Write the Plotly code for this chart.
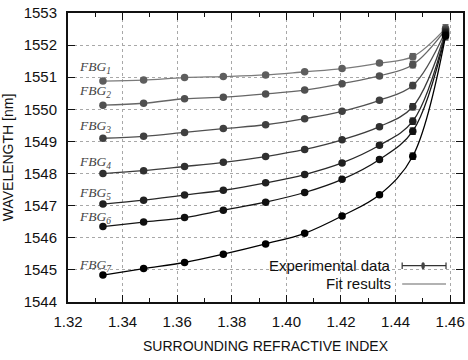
import plotly.graph_objects as go

# Surrounding refractive index at which each grating was measured
refractive_index = [1.3328, 1.3477, 1.3627, 1.3769, 1.3924, 1.4067, 1.4204, 1.4341, 1.4463, 1.4583]

# Bragg wavelengths (nm) for the seven gratings
fbg1 = [1550.88, 1550.91, 1550.99, 1551.02, 1551.07, 1551.17, 1551.27, 1551.44, 1551.64, 1552.52]
fbg2 = [1550.13, 1550.19, 1550.33, 1550.38, 1550.48, 1550.60, 1550.80, 1551.04, 1551.39, 1552.48]
fbg3 = [1549.10, 1549.16, 1549.28, 1549.40, 1549.52, 1549.71, 1549.94, 1550.28, 1550.74, 1552.44]
fbg4 = [1548.00, 1548.09, 1548.22, 1548.35, 1548.53, 1548.75, 1549.05, 1549.46, 1550.08, 1552.40]
fbg5 = [1547.05, 1547.17, 1547.33, 1547.48, 1547.71, 1547.97, 1548.33, 1548.88, 1549.63, 1552.36]
fbg6 = [1546.35, 1546.49, 1546.63, 1546.86, 1547.11, 1547.41, 1547.82, 1548.44, 1549.32, 1552.32]
fbg7 = [1544.84, 1545.04, 1545.23, 1545.49, 1545.81, 1546.14, 1546.68, 1547.34, 1548.54, 1552.28]

# Measurement uncertainty (nm)
wavelength_err = [0.03, 0.03, 0.03, 0.03, 0.03, 0.04, 0.05, 0.06, 0.10, 0.12]

series = [fbg1, fbg2, fbg3, fbg4, fbg5, fbg6, fbg7]
series_names = ["FBG<sub>1</sub>", "FBG<sub>2</sub>", "FBG<sub>3</sub>", "FBG<sub>4</sub>",
                "FBG<sub>5</sub>", "FBG<sub>6</sub>", "FBG<sub>7</sub>"]

line_colors = ["#7a7a7a", "#666666", "#505050", "#3c3c3c", "#282828", "#141414", "#000000"]
marker_colors = ["#5e5e5e", "#505050", "#404040", "#303030", "#202020", "#101010", "#000000"]

# where each grating's name is written (x, y in data units)
label_pos = [(1.3233, 1551.29), (1.3233, 1550.57), (1.3233, 1549.45), (1.3233, 1548.33),
             (1.3233, 1547.39), (1.3233, 1546.64), (1.3233, 1545.15)]

fig = go.Figure()

# fitted curves
for ys, lc in zip(series, line_colors):
    fig.add_trace(go.Scatter(
        x=refractive_index, y=ys, mode="lines",
        line=dict(color=lc, width=1.3, shape="spline", smoothing=1.0),
        showlegend=False, hoverinfo="skip"))

# measured points with error bars
for ys, mc in zip(series, marker_colors):
    fig.add_trace(go.Scatter(
        x=refractive_index, y=ys, mode="markers",
        marker=dict(color=mc, size=7.5, symbol="circle"),
        error_y=dict(type="data", array=wavelength_err, color=mc, thickness=1, width=3),
        showlegend=False))

font_sans = "Liberation Sans, Arial, sans-serif"

annotations = []
for name, (lx, ly) in zip(series_names, label_pos):
    annotations.append(dict(
        x=lx, y=ly, xref="x", yref="y", text="<i>" + name + "</i>",
        showarrow=False, xanchor="left", yanchor="middle",
        font=dict(family="Liberation Serif, DejaVu Serif, serif", size=13.5, color="#444444")))

# key entries
annotations.append(dict(x=0.824, y=0.1256, xref="paper", yref="paper", text="Experimental data",
                        showarrow=False, xanchor="right", yanchor="middle",
                        font=dict(family=font_sans, size=15, color="#111111")))
annotations.append(dict(x=0.824, y=0.0623, xref="paper", yref="paper", text="Fit results",
                        showarrow=False, xanchor="right", yanchor="middle",
                        font=dict(family=font_sans, size=15, color="#111111")))

shapes = [
    # opaque key background over the grid
    dict(type="rect", xref="paper", yref="paper", x0=0.453, x1=1.0, y0=0.0, y1=0.159,
         fillcolor="white", line=dict(width=0), layer="between"),
    # error-bar key sample
    dict(type="line", xref="paper", yref="paper", x0=0.846, x1=0.957, y0=0.1256, y1=0.1256,
         line=dict(color="#333333", width=1.2), layer="above"),
    dict(type="line", xref="paper", yref="paper", x0=0.846, x1=0.846, y0=0.1146, y1=0.1366,
         line=dict(color="#333333", width=1.2), layer="above"),
    dict(type="line", xref="paper", yref="paper", x0=0.957, x1=0.957, y0=0.1146, y1=0.1366,
         line=dict(color="#333333", width=1.2), layer="above"),
    dict(type="circle", xref="paper", yref="paper", x0=0.8945, x1=0.9035, y0=0.1135, y1=0.1377,
         fillcolor="#444444", line=dict(color="#444444", width=0), layer="above"),
    # line key sample
    dict(type="line", xref="paper", yref="paper", x0=0.846, x1=0.957, y0=0.0623, y1=0.0623,
         line=dict(color="#666666", width=1.2), layer="above"),
]

fig.update_layout(
    width=468, height=360,
    margin=dict(l=68, r=3, t=13, b=58),
    paper_bgcolor="white", plot_bgcolor="white",
    font=dict(family=font_sans, size=15, color="#111111"),
    annotations=annotations, shapes=shapes,
    showlegend=False,
)

fig.update_xaxes(
    range=[1.32, 1.4647], tickvals=[1.32, 1.34, 1.36, 1.38, 1.40, 1.42, 1.44, 1.46],
    ticktext=["1.32", "1.34", "1.36", "1.38", "1.40", "1.42", "1.44", "1.46"],
    ticks="inside", ticklen=7, tickwidth=1, tickcolor="#111111",
    minor=dict(tickvals=[1.33, 1.35, 1.37, 1.39, 1.41, 1.43, 1.45], ticks="inside",
               ticklen=4, tickcolor="#111111", showgrid=False),
    showline=True, linecolor="#111111", linewidth=2, mirror="allticks",
    showgrid=True, gridcolor="#a8a8a8", griddash="dot", gridwidth=1,
    zeroline=False, ticklabelstandoff=5,
    title=dict(text="SURROUNDING REFRACTIVE INDEX", font=dict(size=14), standoff=12),
)

fig.update_yaxes(
    range=[1544, 1553], tickvals=[1544, 1545, 1546, 1547, 1548, 1549, 1550, 1551, 1552, 1553],
    ticks="inside", ticklen=7, tickwidth=1, tickcolor="#111111",
    showline=True, linecolor="#111111", linewidth=2, mirror="allticks",
    showgrid=True, gridcolor="#a8a8a8", griddash="dot", gridwidth=1,
    zeroline=False, ticklabelstandoff=6,
    title=dict(text="WAVELENGTH [nm]", font=dict(size=14), standoff=8),
)

fig.write_html("out.html")
